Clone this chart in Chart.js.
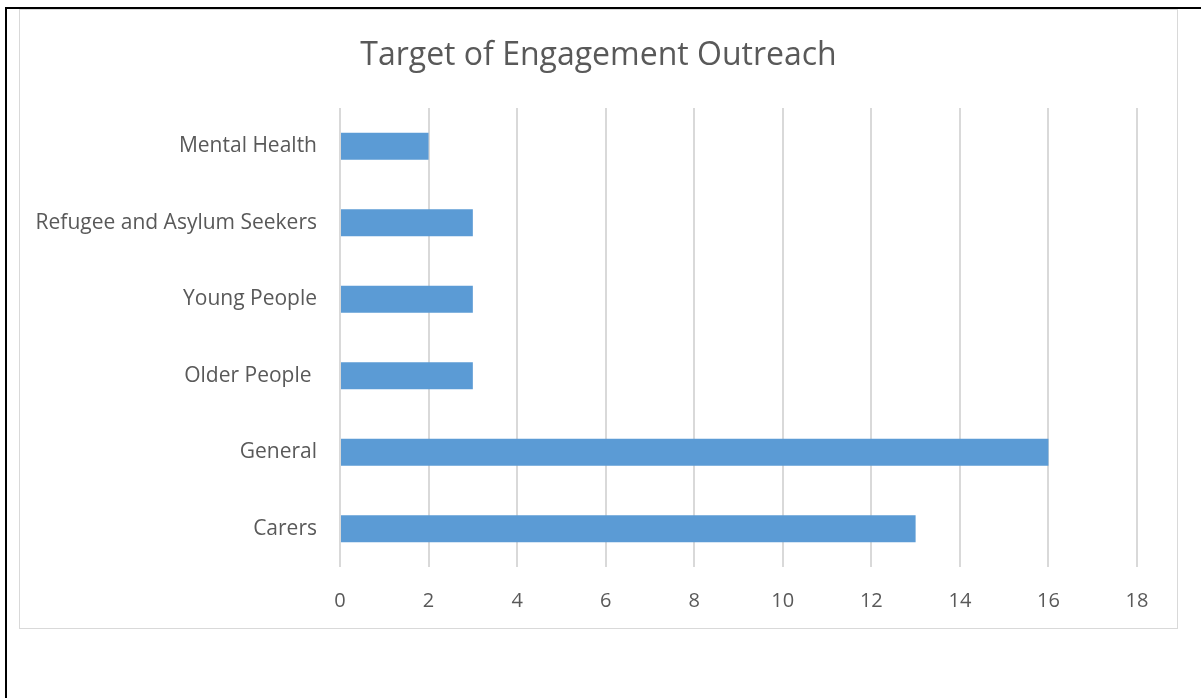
<!DOCTYPE html>
<html>
<head>
<meta charset="utf-8">
<script src="https://cdn.jsdelivr.net/npm/chart.js@4/dist/chart.umd.min.js"></script>
<style>
  html, body { margin: 0; padding: 0; background: #fff; width: 1201px; height: 698px; overflow: hidden; }
  .page {
    position: absolute; left: 5px; top: 7px; width: 1300px; height: 800px;
    border-left: 2px solid #000; border-top: 2px solid #000;
  }
  .frame {
    position: absolute; left: 19px; top: 9px; width: 1157px; height: 618px;
    border: 1px solid #d9d9d9; background: #fff;
  }
  canvas { display: block; }
</style>
</head>
<body>
<div class="page"></div>
<div class="frame">
  <canvas id="chart" width="1157" height="618"></canvas>
</div>
<script>
// Outreach target groups and number of engagement activities for each
const categories = ['Mental Health', 'Refugee and Asylum Seekers', 'Young People', 'Older People ', 'General', 'Carers'];
const counts = [2, 3, 3, 3, 16, 13];
const axisMax = 18;
const axisStep = 2;

const textColor = '#595959';
const barColor = '#5b9bd5';
const gridColor = '#d9d9d9';
const fontFamily = '"Open Sans", "Liberation Sans", sans-serif';

// Center the title across the whole canvas rather than the padded layout box
const centerTitle = {
  id: 'centerTitle',
  afterLayout(chart) {
    const t = chart.titleBlock;
    if (t) { t.left = 0; t.right = chart.width; }
  }
};

new Chart(document.getElementById('chart'), {
  type: 'bar',
  data: {
    labels: categories,
    datasets: [{
      label: 'Target of Engagement Outreach',
      data: counts,
      backgroundColor: barColor,
      borderWidth: 0,
      categoryPercentage: 1,
      barPercentage: 0.355
    }]
  },
  options: {
    indexAxis: 'y',
    responsive: false,
    animation: false,
    layout: { padding: { left: 0, right: 40, top: 0, bottom: 0 } },
    plugins: {
      legend: { display: false },
      tooltip: { enabled: false },
      title: {
        display: true,
        text: 'Target of Engagement Outreach',
        color: textColor,
        font: { family: fontFamily, size: 32, weight: 'normal', lineHeight: 1.2 },
        padding: { top: 27, bottom: 32.6 }
      }
    },
    scales: {
      x: {
        min: 0,
        max: axisMax,
        ticks: {
          stepSize: axisStep,
          color: textColor,
          padding: 22,
          font: { family: fontFamily, size: 20 }
        },
        grid: { color: gridColor, lineWidth: 2, drawTicks: false },
        border: { display: false },
        afterFit(scale) { scale.height = 61; }
      },
      y: {
        ticks: {
          color: textColor,
          padding: 23,
          font: { family: fontFamily, size: 21 }
        },
        grid: { display: false, drawTicks: false },
        border: { display: false },
        afterFit(scale) { scale.width = 320; }
      }
    }
  },
  plugins: [centerTitle]
});
</script>
</body>
</html>
